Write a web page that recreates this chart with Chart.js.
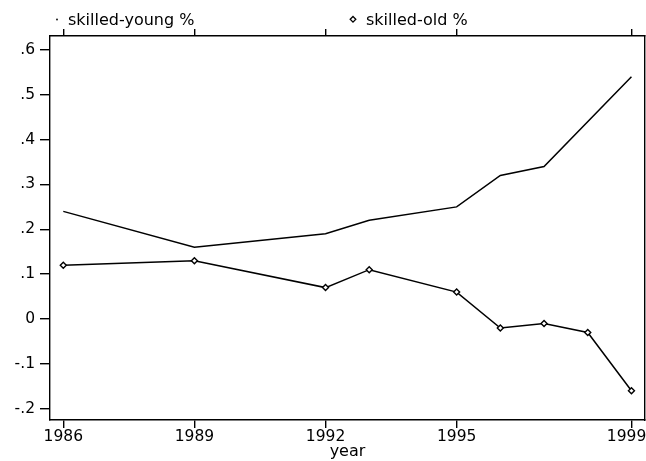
<!DOCTYPE html>
<html>
<head>
<meta charset="utf-8">
<script src="https://cdn.jsdelivr.net/npm/chart.js@4"></script>
<style>
  html, body { margin: 0; padding: 0; background: #fff; }
  #wrap { width: 646px; height: 461px; }
</style>
</head>
<body>
<div id="wrap"><canvas id="chart" width="646" height="461"></canvas></div>
<script>
// data
const youngYears = [1986, 1989, 1992, 1993, 1995, 1996, 1997, 1999];
const youngVals  = [0.24, 0.16, 0.19, 0.22, 0.25, 0.32, 0.34, 0.54];
const oldYears   = [1986, 1989, 1992, 1993, 1995, 1996, 1997, 1998, 1999];
const oldVals    = [0.12, 0.13, 0.07, 0.11, 0.06, -0.02, -0.01, -0.03, -0.16];
const xTicks = [1986, 1989, 1992, 1995, 1999];
const yTicks = [-0.2, -0.1, 0, 0.1, 0.2, 0.3, 0.4, 0.5, 0.6];

const FONT = '"DejaVu Sans", Arial, sans-serif';
const X_MIN = 1985.696, X_MAX = 1999.31;
const Y_MIN = -0.2252, Y_MAX = 0.631;

function pts(xs, ys) {
    return xs.map((x, i) => ({ x: x, y: ys[i] }));
}

function yLabel(v) {
    if (v === 0) return '0';
    return v.toFixed(1).replace('0.', '.');
}

// keep chart.js from reserving room for overhanging labels
function noPad(s) {
    s.paddingLeft = 0; s.paddingRight = 0;
    s.paddingTop = 0; s.paddingBottom = 0;
}

// Stata style legend along the top
const topLegend = {
    id: 'topLegend',
    afterDraw(chart) {
        const ctx = chart.ctx;
        ctx.save();
        ctx.fillStyle = '#000';
        ctx.strokeStyle = '#000';
        ctx.font = '16px ' + FONT;
        ctx.textBaseline = 'alphabetic';
        // young: tiny dot
        ctx.beginPath();
        ctx.arc(57, 19.5, 0.9, 0, Math.PI * 2);
        ctx.fill();
        ctx.fillText('skilled-young %', 68, 25);
        // old: small diamond
        ctx.lineWidth = 1.3;
        ctx.beginPath();
        ctx.moveTo(353, 16.5);
        ctx.lineTo(355.8, 19.3);
        ctx.lineTo(353, 22.1);
        ctx.lineTo(350.2, 19.3);
        ctx.closePath();
        ctx.stroke();
        ctx.fillText('skilled-old %', 366, 25);
        ctx.restore();
    }
};

const axisLine = { color: '#000', width: 1.4 };

new Chart(document.getElementById('chart'), {
    type: 'line',
    data: {
        datasets: [{
            label: 'skilled-young %',
            data: pts(youngYears, youngVals),
            borderColor: '#000',
            borderWidth: 1.5,
            pointRadius: 0,
            tension: 0,
            fill: false
        }, {
            label: 'skilled-old %',
            data: pts(oldYears, oldVals),
            borderColor: '#000',
            borderWidth: 1.5,
            pointStyle: 'rectRot',
            pointRadius: 3,
            pointBackgroundColor: '#fff',
            pointBorderColor: '#000',
            pointBorderWidth: 1.4,
            tension: 0,
            fill: false
        }]
    },
    options: {
        responsive: false,
        animation: false,
        events: [],
        layout: { autoPadding: false, padding: { top: 29, right: 1, bottom: 0, left: 0 } },
        plugins: { legend: { display: false }, tooltip: { enabled: false } },
        scales: {
            x: {
                type: 'linear',
                position: 'bottom',
                min: X_MIN,
                max: X_MAX,
                afterBuildTicks: s => { s.ticks = xTicks.map(v => ({ value: v })); },
                afterFit: s => { s.height = 41; noPad(s); },
                grid: { drawOnChartArea: false, tickLength: 8, color: '#000', lineWidth: 1.4 },
                border: axisLine,
                ticks: {
                    color: '#000', padding: 0, maxRotation: 0, autoSkip: false,
                    font: { family: FONT, size: 15.5 },
                    // last label sits against the right edge, as in the picture
                    callback: v => v === 1999 ? '1999  ' : String(v)
                },
                title: {
                    display: true, text: 'year', color: '#000',
                    font: { family: FONT, size: 16 }, padding: { top: 0, bottom: 0 }
                }
            },
            x2: {
                type: 'linear',
                position: 'top',
                min: X_MIN,
                max: X_MAX,
                afterBuildTicks: s => { s.ticks = xTicks.map(v => ({ value: v })); },
                afterFit: s => { s.height = 7; noPad(s); },
                grid: { drawOnChartArea: false, tickLength: 7, color: '#000', lineWidth: 1.4 },
                border: axisLine,
                ticks: { display: false }
            },
            y: {
                position: 'left',
                min: Y_MIN,
                max: Y_MAX,
                afterBuildTicks: s => { s.ticks = yTicks.map(v => ({ value: v })); },
                afterFit: s => { s.width = 50; noPad(s); },
                grid: { drawOnChartArea: false, tickLength: 10, color: '#000', lineWidth: 1.4 },
                border: axisLine,
                ticks: {
                    color: '#000', padding: 5, autoSkip: false,
                    font: { family: FONT, size: 15.5 },
                    callback: v => yLabel(v)
                }
            },
            y2: {
                position: 'right',
                min: Y_MIN,
                max: Y_MAX,
                afterFit: s => { s.width = 0; noPad(s); },
                grid: { drawOnChartArea: false, drawTicks: false },
                border: axisLine,
                ticks: { display: false }
            }
        }
    },
    plugins: [topLegend]
});
</script>
</body>
</html>
